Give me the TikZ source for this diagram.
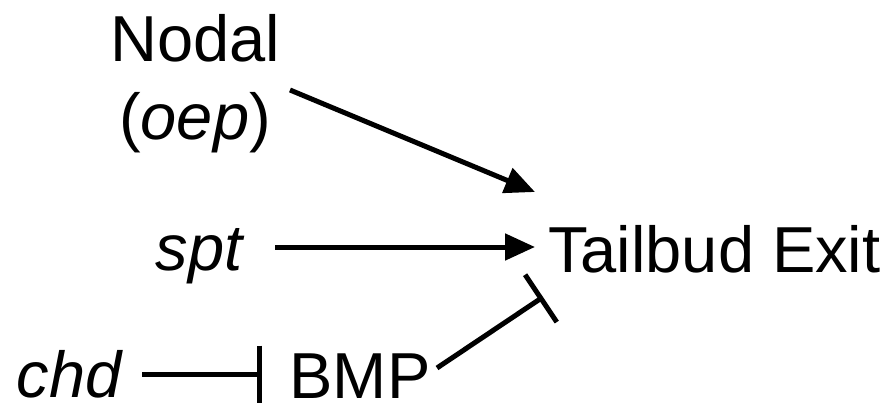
\documentclass[tikz,border=0pt]{standalone}
\usepackage{fontspec}
\setmainfont{Liberation Sans}
\usetikzlibrary{arrows.meta}
\begin{document}
\begin{tikzpicture}[x=1pt,y=-1pt,
  lbl/.style={font=\fontsize{65}{70}\selectfont, inner sep=0pt, anchor=base},
  act/.style={line width=5pt, -{Triangle[length=30pt,width=26pt]}},
  inh/.style={line width=5pt, -{Bar[width=57pt,line width=5pt]}}]
\useasboundingbox (0,0) rectangle (896,406);
\node[lbl] (nodal) at (195,62) {Nodal};
\node[lbl] (oep) at (195,140) {(\textit{oep})};
\node[lbl] (spt) at (200,270) {\textit{spt}};
\node[lbl,anchor=base west] (tb) at (548,272) {Tailbud Exit};
\node[lbl,text depth=0pt] (chd) at (70,397) {\textit{chd}};
\node[lbl,text depth=0pt] (bmp) at (360,398) {BMP};
\coordinate (n1) at (290,90);
\coordinate (n2) at (535,192);
\coordinate (s1) at (275,247);
\coordinate (s2) at (535,247);
\coordinate (b1) at (437,368);
\coordinate (b2) at (543,297);
\coordinate (c1) at (142,374);
\coordinate (c2) at (262,374);
\draw[act] (n1) -- (n2);
\draw[act] (s1) -- (s2);
\draw[inh] (b1) -- (b2);
\draw[inh] (c1) -- (c2);
\end{tikzpicture}
\end{document}
